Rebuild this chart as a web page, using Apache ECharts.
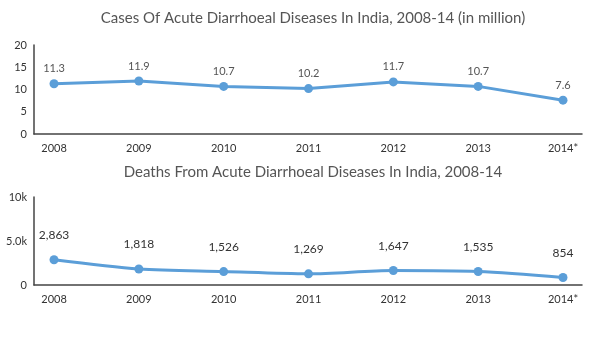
<!DOCTYPE html>
<html><head><meta charset="utf-8">
<script src="https://cdn.jsdelivr.net/npm/echarts@6/dist/echarts.min.js"></script>
<style>html,body{margin:0;padding:0;background:#fff}#c{width:594px;height:337px}</style>
</head><body><div id="c"></div>
<script>
const categories = ["2008","2009","2010","2011","2012","2013","2014*"];
const cases = [11.3, 11.9, 10.7, 10.2, 11.7, 10.7, 7.6];
const deaths = [2863, 1818, 1526, 1269, 1647, 1535, 854];
const casesTicks = [0,5,10,15,20];
const deathsTicks = [0,5000,10000];
const title1 = "Cases Of Acute Diarrhoeal Diseases In India, 2008-14 (in million)";
const title2 = "Deaths From Acute Diarrhoeal Diseases In India, 2008-14";

const FONT = "Lato";
const idx = categories.map((c,i)=>i);
function xAxisCfg(gi){
  return {
    type:'value', gridIndex:gi, min:-0.236, max:6.224,
    axisLine:{show:true,onZero:false,lineStyle:{color:'#444',width:1.5}},
    axisTick:{show:false},
    splitLine:{show:false},
    axisLabel:{customValues:idx, formatter:v=>categories[Math.round(v)], color:'#333', fontSize:11, fontFamily:FONT, margin:9}
  };
}
const chart = echarts.init(document.getElementById('c'), null, {renderer:'canvas'});
chart.setOption({
  animation:false,
  title:[
    {text:title1,left:308,textAlign:'center',top:6,textStyle:{fontFamily:FONT,fontSize:15,fontWeight:'normal',color:'#555'}},
    {text:title2,left:308,textAlign:'center',top:160,textStyle:{fontFamily:FONT,fontSize:15,fontWeight:'normal',color:'#555'}}
  ],
  grid:[
    {left:34,right:12,top:45,bottom:203},
    {left:34,right:12,top:197,bottom:52}
  ],
  xAxis:[xAxisCfg(0), xAxisCfg(1)],
  yAxis:[
    {type:'value',gridIndex:0,min:0,max:20,interval:5,
     axisLine:{show:true,onZero:false,lineStyle:{color:'#444',width:1.5}},axisTick:{show:false},splitLine:{show:false},
     axisLabel:{color:'#333',fontSize:11,fontFamily:FONT,margin:7,customValues:casesTicks}},
    {type:'value',gridIndex:1,min:0,max:10000,interval:5000,
     axisLine:{show:true,onZero:false,lineStyle:{color:'#444',width:1.5}},axisTick:{show:false},splitLine:{show:false},
     axisLabel:{color:'#333',fontSize:11,fontFamily:FONT,margin:7,customValues:deathsTicks,
       formatter:v=>v===0?'0':(v===5000?'5.0k':'10k')}}
  ],
  series:[
    {type:'line',xAxisIndex:0,yAxisIndex:0,data:cases.map((v,i)=>[idx[i],v]),
     symbol:'circle',symbolSize:9,lineStyle:{width:3,color:'#5b9ed8'},itemStyle:{color:'#5b9ed8'},
     label:{show:true,position:'top',distance:5,color:'#555',fontSize:11,fontFamily:FONT,formatter:p=>p.value[1].toFixed(1)}},
    {type:'line',xAxisIndex:1,yAxisIndex:1,data:deaths.map((v,i)=>[idx[i],v]),smooth:0.3,
     symbol:'circle',symbolSize:9,lineStyle:{width:3,color:'#5b9ed8'},itemStyle:{color:'#5b9ed8'},
     label:{show:true,position:'top',distance:14,color:'#333',fontSize:12,fontFamily:FONT,formatter:p=>p.value[1].toLocaleString('en-US')}}
  ]
});
</script></body></html>
